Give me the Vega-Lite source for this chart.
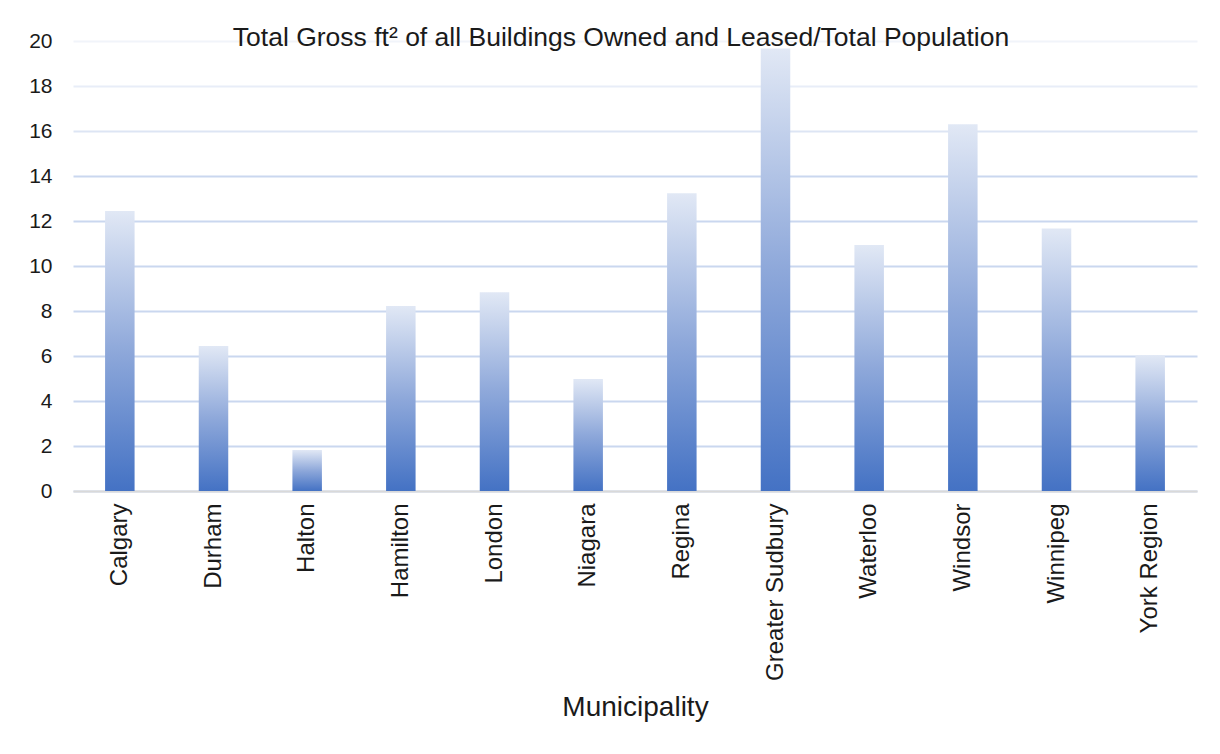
{
  "$schema": "https://vega.github.io/schema/vega-lite/v6.json",
  "width": 1124,
  "height": 450,
  "autosize": {"type": "none"},
  "padding": {"left": 73, "top": 41, "right": 23, "bottom": 263},
  "background": "white",
  "title": {
    "text": "Total Gross ft² of all Buildings  Owned  and  Leased/Total Population",
    "fontSize": 26.5,
    "font": "Liberation Sans",
    "fontWeight": "normal",
    "color": "#1a1a1a",
    "anchor": "middle",
    "orient": "top",
    "offset": -21,
    "dx": -14
  },
  "data": {
    "values": [
      {"Municipality": "Calgary", "value": 12.44},
      {"Municipality": "Durham", "value": 6.44},
      {"Municipality": "Halton", "value": 1.82},
      {"Municipality": "Hamilton", "value": 8.22},
      {"Municipality": "London", "value": 8.83},
      {"Municipality": "Niagara", "value": 4.98},
      {"Municipality": "Regina", "value": 13.23},
      {"Municipality": "Greater Sudbury", "value": 19.67},
      {"Municipality": "Waterloo", "value": 10.93},
      {"Municipality": "Windsor", "value": 16.3},
      {"Municipality": "Winnipeg", "value": 11.67},
      {"Municipality": "York Region", "value": 6.03}
    ]
  },
  "mark": {
    "type": "bar",
    "fill": {
      "gradient": "linear",
      "x1": 0, "y1": 1, "x2": 0, "y2": 0,
      "stops": [
        {"offset": 0, "color": "#4472C4"},
        {"offset": 0.5, "color": "#8EA8DA"},
        {"offset": 1, "color": "#E1E8F5"}
      ]
    }
  },
  "encoding": {
    "x": {
      "field": "Municipality",
      "type": "nominal",
      "sort": null,
      "scale": {"paddingInner": 0.685, "paddingOuter": 0.3425},
      "axis": {
        "title": "Municipality",
        "titleFont": "Liberation Sans",
        "titleFontSize": 28,
        "titleFontWeight": "normal",
        "titleColor": "#1a1a1a",
        "titlePadding": 13,
        "labelAngle": -90,
        "labelFont": "Liberation Sans",
        "labelFontSize": 24,
        "labelColor": "#1a1a1a",
        "labelPadding": 12,
        "ticks": false,
        "domainColor": "#D9D9D9",
        "domainWidth": 2,
        "grid": false
      }
    },
    "y": {
      "field": "value",
      "type": "quantitative",
      "scale": {"domain": [0, 20]},
      "axis": {
        "title": null,
        "values": [0, 2, 4, 6, 8, 10, 12, 14, 16, 18, 20],
        "labelFont": "Liberation Sans",
        "labelFontSize": 21,
        "labelColor": "#1a1a1a",
        "labelPadding": 21,
        "ticks": false,
        "domain": false,
        "grid": true,
        "gridWidth": 2,
        "gridColor": {
          "condition": [
            {"test": "datum.value >= 20", "value": "#F1F4FA"},
            {"test": "datum.value >= 18", "value": "#E8EDF8"},
            {"test": "datum.value >= 16", "value": "#DDE5F4"}
          ],
          "value": "#CAD7EF"
        }
      }
    }
  },
  "config": {"view": {"stroke": null}}
}
